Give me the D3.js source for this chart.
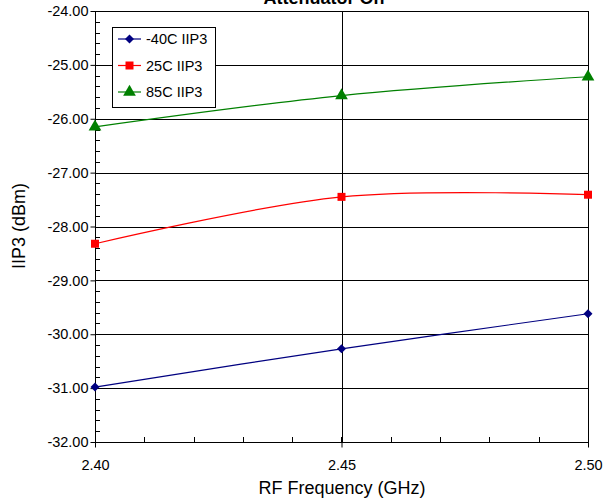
<!DOCTYPE html>
<html><head><meta charset="utf-8">
<script src="https://cdn.jsdelivr.net/npm/d3@7"></script>
<style>body{margin:0;background:#fff}svg{display:block}text{font-family:Arial,"Liberation Sans",sans-serif}</style>
</head><body>
<svg id="c" width="613" height="501"></svg>
<script>
const freqs = [2.40, 2.45, 2.50];
const seriesNames = ["-40C IIP3", "25C IIP3", "85C IIP3"];
const valsM40 = [-30.98, -30.27, -29.62];
const vals25 = [-28.32, -27.45, -27.41];
const vals85 = [-26.15, -25.57, -25.22];
const yTicks = [-32, -31, -30, -29, -28, -27, -26, -25, -24];
const xTicks = [2.40, 2.45, 2.50];
const colors = ["#000080", "#FF0000", "#008000"];
const shapes = [d3.symbolSquare, d3.symbolSquare, d3.symbolTriangle];
const sizes = [40, 64, 70];
const rots = [45, 0, 0];

const svg = d3.select("#c");
const L = 95, R = 588, T = 11, B = 442;
const x = d3.scaleLinear().domain([2.40, 2.50]).range([L, R]);
const y = d3.scaleLinear().domain([-32, -24]).range([B, T]);

// gridlines
svg.append("g").selectAll("line").data(yTicks).join("line")
  .attr("x1", L).attr("x2", R).attr("y1", d => Math.round(y(d)) + 0.5).attr("y2", d => Math.round(y(d)) + 0.5)
  .attr("stroke", "#000").attr("stroke-width", 1);
svg.append("line").attr("x1", Math.round(x(2.45)) + 0.5).attr("x2", Math.round(x(2.45)) + 0.5)
  .attr("y1", T).attr("y2", B).attr("stroke", "#000");

// frame
svg.append("rect").attr("x", L + 0.5).attr("y", T + 0.5).attr("width", R - L).attr("height", B - T)
  .attr("fill", "none").attr("stroke", "#000");

// minor ticks
const yMinor = d3.range(-32, -24.0001, 0.2);
svg.append("g").selectAll("line").data(yMinor).join("line")
  .attr("x1", L).attr("x2", L + 5).attr("y1", d => Math.round(y(d)) + 0.5).attr("y2", d => Math.round(y(d)) + 0.5)
  .attr("stroke", "#000");
const xMinor = d3.range(2.40, 2.5001, 0.01);
svg.append("g").selectAll("line").data(xMinor).join("line")
  .attr("x1", d => Math.round(x(d)) + 0.5).attr("x2", d => Math.round(x(d)) + 0.5).attr("y1", B).attr("y2", B - 5)
  .attr("stroke", "#000");

// axes (major ticks outward)
const fmt = d3.format(".2f");
const yAxis = d3.axisLeft(y).tickValues(yTicks).tickSizeInner(5).tickSizeOuter(0).tickPadding(2);
const gy = svg.append("g").attr("transform", `translate(${L + 0.5},0)`).call(yAxis);
gy.select(".domain").remove();
gy.selectAll("text").attr("font-size", 14.5).attr("fill", "#000").text(d => fmt(d).replace("\u2212", "-"));
const xAxis = d3.axisBottom(x).tickValues(xTicks).tickSizeInner(5).tickSizeOuter(0).tickPadding(12);
const gx = svg.append("g").attr("transform", `translate(0,${B + 0.5})`).call(xAxis);
gx.select(".domain").remove();
gx.selectAll("text").attr("font-size", 14.5).attr("fill", "#000").text(d => fmt(d));

// series
const allVals = [valsM40, vals25, vals85];
const line = d3.line().x((d, i) => x(freqs[i])).y(d => y(d)).curve(d3.curveCardinal.tension(0));
allVals.forEach((vals, si) => {
  svg.append("path").datum(vals).attr("d", line).attr("fill", "none").attr("stroke", colors[si]).attr("stroke-width", 1.2);
  svg.append("g").selectAll("path").data(vals).join("path")
    .attr("transform", (d, i) => `translate(${x(freqs[i])},${y(d)}) rotate(${rots[si]})`)
    .attr("d", d3.symbol().type(shapes[si]).size(sizes[si]))
    .attr("fill", colors[si]);
});

// legend
const lg = svg.append("g");
lg.append("rect").attr("x", 112.5).attr("y", 27.5).attr("width", 103).attr("height", 80).attr("fill", "#fff").attr("stroke", "#000");
seriesNames.forEach((n, i) => {
  const ly = 39 + i * 26.5;
  lg.append("line").attr("x1", 118).attr("x2", 141).attr("y1", ly).attr("y2", ly).attr("stroke", colors[i]).attr("stroke-width", 1.2);
  lg.append("path").attr("transform", `translate(129.5,${ly}) rotate(${rots[i]})`).attr("d", d3.symbol().type(shapes[i]).size(sizes[i])).attr("fill", colors[i]);
  lg.append("text").attr("x", 146).attr("y", ly + 5).attr("font-size", 14.5).text(n);
});

// titles
svg.append("text").attr("x", 324).attr("y", 4).attr("text-anchor", "middle").attr("font-size", 18).attr("font-weight", "bold").text("Attenuator On");
svg.append("text").attr("x", 342).attr("y", 494).attr("text-anchor", "middle").attr("font-size", 18).text("RF Frequency (GHz)");
svg.append("text").attr("transform", "translate(25,226) rotate(-90)").attr("text-anchor", "middle").attr("font-size", 18).text("IIP3 (dBm)");
</script>
</body></html>
